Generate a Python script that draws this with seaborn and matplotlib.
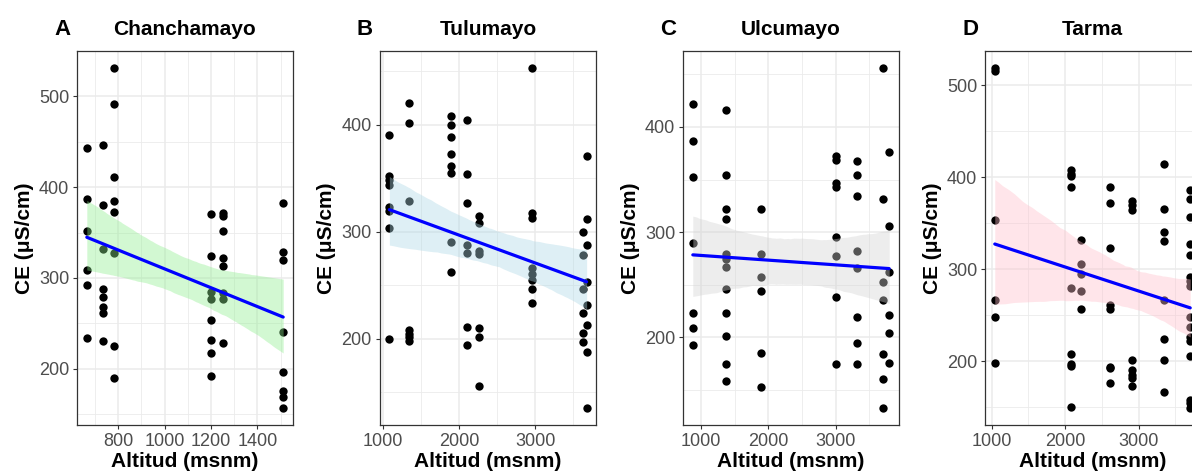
import numpy as np
import pandas as pd
import matplotlib
matplotlib.use("Agg")
import matplotlib.pyplot as plt
import seaborn as sns
from matplotlib.ticker import FixedLocator

sns.set_theme(style="whitegrid")
plt.rcParams['font.family'] = ['Liberation Sans', 'DejaVu Sans']

# ----- values: CE (uS/cm) per sampling altitude (msnm) -----
chan_alt = [665, 734, 782, 1200, 1250, 1511]
chan_ce = [
    [443, 387, 352, 309, 292, 234],
    [446, 380, 332, 288, 279, 268, 262, 231],
    [531, 491, 411, 385, 373, 328, 225, 190],
    [370, 324, 285, 277, 254, 232, 217, 192],
    [371, 368, 352, 322, 313, 284, 277, 228],
    [383, 329, 320, 241, 197, 176, 169, 157],
]

tulu_alt = [1085, 1340, 1893, 2100, 2268, 2958, 3633, 3677]
tulu_ce = [
    [390, 352, 348, 344, 323, 319, 303, 200],
    [420, 402, 329, 208, 204, 201, 198],
    [408, 400, 388, 373, 361, 355, 290, 262],
    [404, 354, 327, 287, 280, 211, 194],
    [315, 308, 282, 279, 210, 201, 156],
    [453, 317, 313, 266, 260, 255, 246, 233],
    [300, 278, 246, 224, 205, 197],
    [371, 312, 287, 253, 231, 213, 187, 135],
]

ulcu_alt = [877, 1369, 1890, 2996, 3314, 3699, 3793]
ulcu_ce = [
    [422, 387, 352, 290, 223, 209, 193],
    [416, 354, 322, 313, 279, 275, 267, 246, 223, 201, 175, 159],
    [322, 279, 257, 244, 185, 153],
    [372, 369, 347, 343, 295, 277, 238, 175],
    [368, 354, 334, 282, 266, 219, 195, 175],
    [456, 332, 253, 236, 184, 161, 133],
    [376, 306, 262, 221, 204, 176],
]

tarma_alt = [1041, 2081, 2217, 2615, 2917, 3345, 3705]
tarma_ce = [
    [519, 516, 354, 267, 248, 198],
    [408, 404, 401, 390, 280, 208, 197, 195, 150],
    [332, 306, 295, 276, 257],
    [389, 372, 323, 261, 257, 194, 192, 176],
    [374, 370, 365, 201, 190, 185, 182, 173],
    [415, 366, 340, 331, 266, 224, 201, 166],
    [386, 376, 357, 328, 315, 292, 287, 282, 248, 237, 226, 222, 206, 158, 154, 149],
]

letters = ['A', 'B', 'C', 'D']
titles = ['Chanchamayo', 'Tulumayo', 'Ulcumayo', 'Tarma']
ribbon_colors = ['lightgreen', 'lightblue', 'lightgray', 'pink']
x_major = [[800, 1000, 1200, 1400], [1000, 2000, 3000], [1000, 2000, 3000], [1000, 2000, 3000]]
x_minor = [[700, 900, 1100, 1300, 1500], [1500, 2500, 3500], [1500, 2500, 3500], [1500, 2500, 3500]]
y_major = [[200, 300, 400, 500], [200, 300, 400], [200, 300, 400], [200, 300, 400, 500]]
y_minor = [150, 250, 350, 450]

# ----- layout (pixels of a 1192x475 figure) -----
W, H = 1192, 475
lefts = [77, 379.5, 683, 985]
widths = [216, 217, 216, 215]
bottom, height = 50, 374

fig = plt.figure(figsize=(11.92, 4.75), dpi=100, facecolor='white')

data = [(chan_alt, chan_ce), (tulu_alt, tulu_ce), (ulcu_alt, ulcu_ce), (tarma_alt, tarma_ce)]

for i, (alt, ce) in enumerate(data):
    ax = fig.add_axes([lefts[i] / W, bottom / H, widths[i] / W, height / H])
    df = pd.DataFrame({
        'alt': np.repeat(alt, [len(v) for v in ce]),
        'ce': np.concatenate(ce),
    })

    sns.scatterplot(data=df, x='alt', y='ce', color='black', s=36, linewidth=0, ax=ax, zorder=2)
    sns.regplot(data=df, x='alt', y='ce', scatter=False, color=ribbon_colors[i], ax=ax,
                seed=7, line_kws={'zorder': 4})
    band = ax.collections[-1]
    band.set_alpha(0.4)
    band.set_linewidth(0)
    band.set_zorder(3)
    line = ax.lines[-1]
    line.set_color('blue')
    line.set_linewidth(2.3)

    # grid like theme_bw
    ax.xaxis.set_major_locator(FixedLocator(x_major[i]))
    ax.xaxis.set_minor_locator(FixedLocator(x_minor[i]))
    ax.yaxis.set_major_locator(FixedLocator(y_major[i]))
    ax.yaxis.set_minor_locator(FixedLocator(y_minor))
    ax.grid(which='major', color='#EBEBEB', linewidth=1.1)
    ax.grid(which='minor', color='#EBEBEB', linewidth=0.6)
    ax.set_axisbelow(True)

    for sp in ax.spines.values():
        sp.set_color('#333333')
        sp.set_linewidth(0.9)
        sp.set_visible(True)

    ax.tick_params(which='major', bottom=True, left=True, length=3, width=0.8, color='#333333',
                   labelcolor='#4D4D4D', labelsize=13, pad=2.5)
    ax.tick_params(which='minor', length=0)

    ax.set_xlabel('Altitud (msnm)', fontsize=15, fontweight='bold', color='black', labelpad=2)
    ax.set_ylabel('CE (μS/cm)', fontsize=15, fontweight='bold', color='black', labelpad=4)
    ax.set_title(titles[i], fontsize=15, fontweight='bold', color='black', pad=11.5)
    ax.annotate(letters[i], xy=(0, 1), xycoords='axes fraction', xytext=(-10.4, 11.5),
                textcoords='offset points', ha='center', va='baseline',
                fontsize=16, fontweight='bold', color='black')

fig.savefig('out.png', dpi=100)
